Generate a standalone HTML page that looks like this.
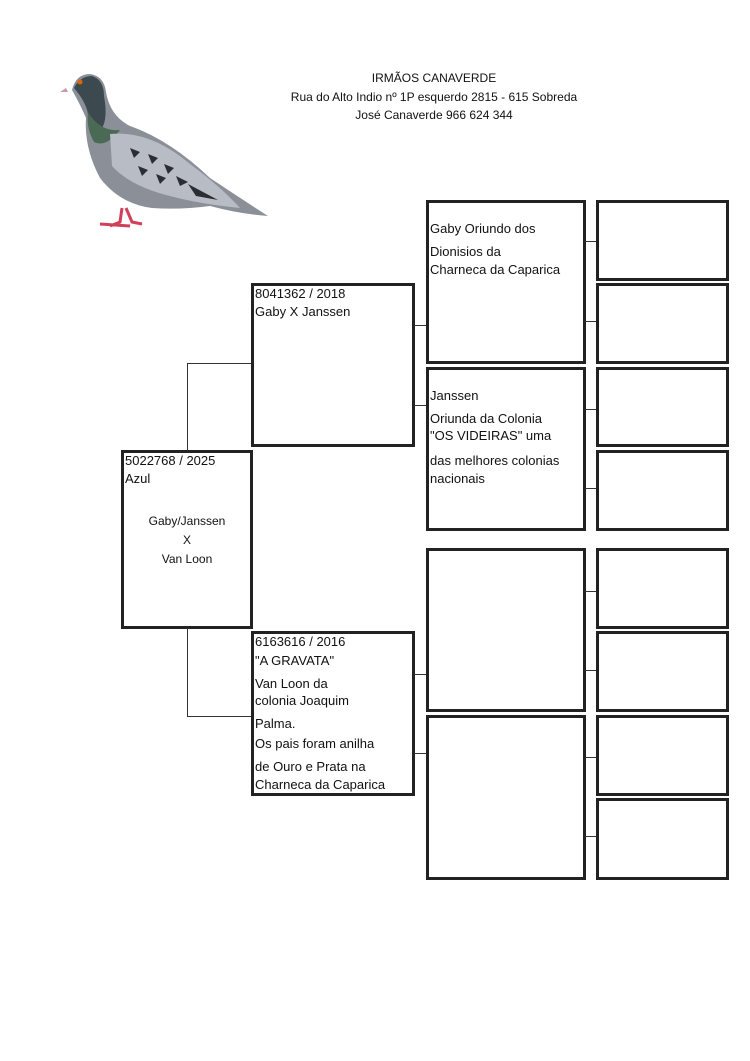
<!DOCTYPE html>
<html><head><meta charset="utf-8"><style>
body{margin:0;background:#fff;}
#p{position:relative;width:750px;height:1061px;overflow:hidden;background:#fff;font-family:"Liberation Sans",Arial,sans-serif;color:#111;}
.b{position:absolute;border:3px solid #222;box-sizing:border-box;background:#fff;}
.h{position:absolute;height:1px;background:#333;}
.v{position:absolute;width:1px;background:#333;}
.t{position:absolute;font-size:13px;line-height:16px;white-space:nowrap;}
.c{position:absolute;font-size:12px;line-height:14px;white-space:nowrap;text-align:center;font-family:"Liberation Sans",sans-serif;}
</style></head><body><div id="p">
<div class="c" style="left:284px;width:300px;top:71px">IRMÃOS CANAVERDE</div>
<div class="c" style="left:284px;width:300px;top:90px">Rua do Alto Indio nº 1P esquerdo 2815 - 615 Sobreda</div>
<div class="c" style="left:284px;width:300px;top:108px">José Canaverde 966 624 344</div>

<svg style="position:absolute;left:60px;top:68px" width="212" height="166" viewBox="0 0 212 166">
<path d="M12 22 Q16 6 30 6 Q44 8 46 24 Q50 48 70 58 Q110 72 150 110 Q180 130 208 148 Q180 146 150 138 Q120 142 92 140 Q60 136 40 110 Q24 80 26 50 Q20 36 12 22Z" fill="#8a8f98"/>
<path d="M14 20 Q20 8 32 8 Q44 12 44 28 Q48 50 42 60 Q30 60 28 46 Q26 34 14 20Z" fill="#3c4a50"/>
<path d="M28 44 Q40 64 60 62 Q46 80 34 74 Q26 60 28 44Z" fill="#4a6a55"/>
<path d="M50 66 Q90 62 130 96 Q160 118 180 140 Q140 136 110 128 Q70 118 52 98Z" fill="#b8bcc4"/>
<g fill="#2a2d33"><path d="M70 80l10 4-6 6z"/><path d="M88 86l10 4-6 6z"/><path d="M104 96l10 4-6 6z"/><path d="M78 98l10 4-6 6z"/><path d="M96 106l10 4-6 6z"/><path d="M116 108l12 6-8 4z"/><path d="M128 116l30 16-22-4z"/></g>
<path d="M6 20 L0 24 L8 24Z" fill="#c9a"/>
<circle cx="20" cy="14" r="2.5" fill="#d60"/>
<path d="M62 140 L60 154 L50 158 M66 140 L72 154 L82 156 M40 156 L70 158" stroke="#d0405a" stroke-width="3" fill="none"/>
</svg>

<div class="b" style="left:121px;top:450px;width:132px;height:179px"></div>
<div class="t" style="left:125px;top:453px">5022768 / 2025</div>
<div class="t" style="left:125px;top:471px">Azul</div>
<div class="c" style="left:121px;width:132px;top:514px">Gaby/Janssen</div>
<div class="c" style="left:121px;width:132px;top:533px">X</div>
<div class="c" style="left:121px;width:132px;top:552px">Van Loon</div>
<div class="v" style="left:187px;top:363px;height:88px"></div>
<div class="h" style="left:187px;top:363px;width:65px"></div>
<div class="v" style="left:187px;top:628px;height:88px"></div>
<div class="h" style="left:187px;top:716px;width:65px"></div>

<div class="b" style="left:251px;top:283px;width:164px;height:164px"></div>
<div class="t" style="left:255px;top:286px">8041362 / 2018</div>
<div class="t" style="left:255px;top:304px">Gaby X Janssen</div>
<div class="b" style="left:251px;top:631px;width:164px;height:165px"></div>
<div class="t" style="left:255px;top:634px">6163616 / 2016</div>
<div class="t" style="left:255px;top:653px">"A GRAVATA"</div>
<div class="t" style="left:255px;top:676px">Van Loon da</div>
<div class="t" style="left:255px;top:693px">colonia Joaquim</div>
<div class="t" style="left:255px;top:716px">Palma.</div>
<div class="t" style="left:255px;top:736px">Os pais foram anilha</div>
<div class="t" style="left:255px;top:759px">de Ouro e Prata na</div>
<div class="t" style="left:255px;top:777px">Charneca da Caparica</div>
<div class="h" style="left:414px;top:325px;width:13px"></div>
<div class="h" style="left:414px;top:405px;width:13px"></div>
<div class="h" style="left:414px;top:674px;width:13px"></div>
<div class="h" style="left:414px;top:753px;width:13px"></div>

<div class="b" style="left:426px;top:200px;width:160px;height:164px"></div>
<div class="t" style="left:430px;top:221px">Gaby Oriundo dos</div>
<div class="t" style="left:430px;top:244px">Dionisios da</div>
<div class="t" style="left:430px;top:262px">Charneca da Caparica</div>
<div class="b" style="left:426px;top:367px;width:160px;height:164px"></div>
<div class="t" style="left:430px;top:388px">Janssen</div>
<div class="t" style="left:430px;top:411px">Oriunda da Colonia</div>
<div class="t" style="left:430px;top:428px">"OS VIDEIRAS" uma</div>
<div class="t" style="left:430px;top:453px">das melhores colonias</div>
<div class="t" style="left:430px;top:471px">nacionais</div>
<div class="b" style="left:426px;top:548px;width:160px;height:164px"></div>
<div class="b" style="left:426px;top:715px;width:160px;height:165px"></div>
<div class="h" style="left:585px;top:241px;width:12px"></div>
<div class="h" style="left:585px;top:321px;width:12px"></div>
<div class="h" style="left:585px;top:409px;width:12px"></div>
<div class="h" style="left:585px;top:488px;width:12px"></div>
<div class="h" style="left:585px;top:591px;width:12px"></div>
<div class="h" style="left:585px;top:670px;width:12px"></div>
<div class="h" style="left:585px;top:757px;width:12px"></div>
<div class="h" style="left:585px;top:836px;width:12px"></div>

<div class="b" style="left:596px;top:200px;width:133px;height:81px"></div>
<div class="b" style="left:596px;top:283px;width:133px;height:81px"></div>
<div class="b" style="left:596px;top:367px;width:133px;height:80px"></div>
<div class="b" style="left:596px;top:450px;width:133px;height:81px"></div>
<div class="b" style="left:596px;top:548px;width:133px;height:81px"></div>
<div class="b" style="left:596px;top:631px;width:133px;height:81px"></div>
<div class="b" style="left:596px;top:715px;width:133px;height:81px"></div>
<div class="b" style="left:596px;top:798px;width:133px;height:82px"></div>
</div></body></html>
